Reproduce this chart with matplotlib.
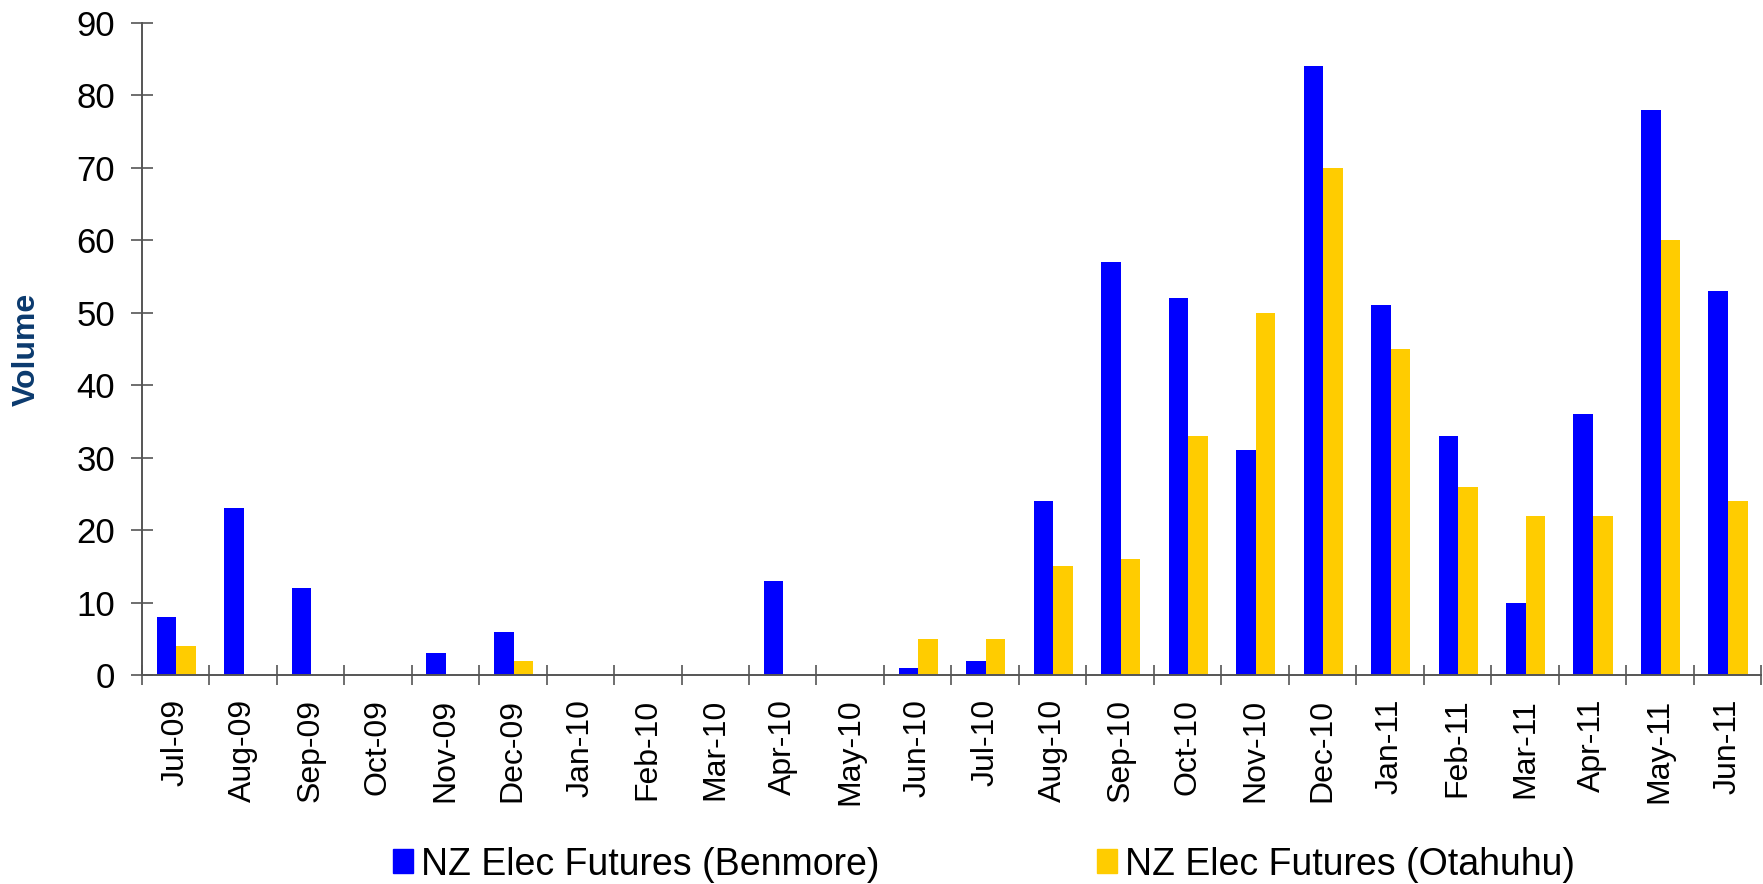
import matplotlib.pyplot as plt
import numpy as np
from matplotlib.patches import Patch

plt.rcParams['font.family'] = ['Liberation Sans', 'DejaVu Sans']

months = ["Jul-09", "Aug-09", "Sep-09", "Oct-09", "Nov-09", "Dec-09",
          "Jan-10", "Feb-10", "Mar-10", "Apr-10", "May-10", "Jun-10",
          "Jul-10", "Aug-10", "Sep-10", "Oct-10", "Nov-10", "Dec-10",
          "Jan-11", "Feb-11", "Mar-11", "Apr-11", "May-11", "Jun-11"]
benmore = [8, 23, 12, 0, 3, 6, 0, 0, 0, 13, 0, 1,
           2, 24, 57, 52, 31, 84, 51, 33, 10, 36, 78, 53]
otahuhu = [4, 0, 0, 0, 0, 2, 0, 0, 0, 0, 0, 5,
           5, 15, 16, 33, 50, 70, 45, 26, 22, 22, 60, 24]
yticks = [0, 10, 20, 30, 40, 50, 60, 70, 80, 90]

blue = "#0000FF"
yellow = "#FFCC00"
axis_grey = "#555555"

fig = plt.figure(figsize=(17.63, 8.84), dpi=100)
ax = fig.add_axes([0.0804, 0.2364, 0.9185, 0.7381])

x = np.arange(len(months))
w = 0.29
ax.bar(x - w / 2 + 0.01, benmore, w, color=blue, label="NZ Elec Futures (Benmore)")
ax.bar(x + w / 2 + 0.01, otahuhu, w, color=yellow, label="NZ Elec Futures (Otahuhu)")

ax.set_xlim(-0.5, len(months) - 0.5)
ax.set_ylim(0, 90)

# category boundaries get the tick marks, labels sit on the centres
ax.set_xticks(np.arange(-0.5, len(months)), [''] * (len(months) + 1))
ax.set_xticks(x, months, minor=True)
ax.tick_params(axis='x', which='major', direction='inout', length=15,
               width=1.2, color=axis_grey)
ax.tick_params(axis='x', which='minor', length=0, pad=17, labelsize=23,
               labelrotation=90)

ax.set_yticks(yticks)
ax.tick_params(axis='y', direction='inout', length=16, width=1.2,
               color=axis_grey, pad=11, labelsize=25)

for side in ['top', 'right']:
    ax.spines[side].set_visible(False)
for side in ['left', 'bottom']:
    ax.spines[side].set_color(axis_grey)
    ax.spines[side].set_linewidth(1.4)

fig.text(0.0153, 0.605, "Volume", rotation=90, fontsize=23, fontweight='bold',
         color="#0b3a6e", ha='center', va='center')

handles = [Patch(color=blue), Patch(color=yellow)]
fig.legend(handles, ["NZ Elec Futures (Benmore)", "NZ Elec Futures (Otahuhu)"],
           loc='center', bbox_to_anchor=(0.558, 0.022), ncol=2, frameon=False,
           fontsize=27, handlelength=0.55, handleheight=0.6, handletextpad=0.2,
           columnspacing=5.8)

plt.savefig("out.png", dpi=100)
